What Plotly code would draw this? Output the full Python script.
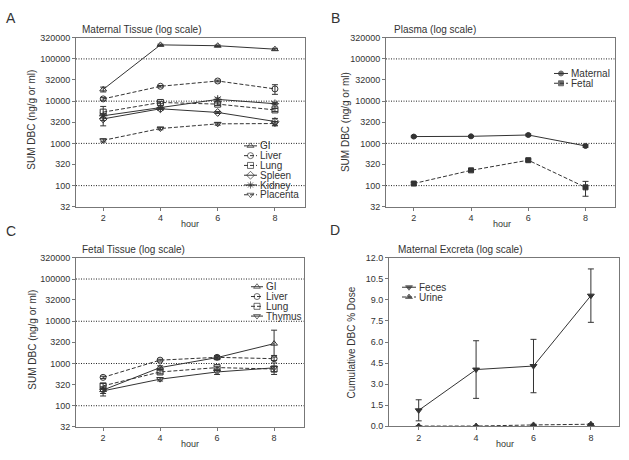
import math
import plotly.graph_objects as go

W, H = 629, 460
FONT = "Liberation Sans, Arial, sans-serif"
LC = "#333333"

hours = [2, 4, 6, 8]

# ---- Panel A: maternal tissue (ng/g or ml) ----
a_gi = [19000, 215000, 205000, 170000]
a_gi_err = [2500, 8000, 8000, 8000]
a_liver = [11300, 22500, 30000, 19500]
a_liver_err = [800, 1000, 1500, 5000]
a_lung = [5500, 9300, 8500, 6200]
a_lung_err = [2000, 600, 600, 500]
a_spleen = [3800, 6600, 5400, 3300]
a_spleen_err = [1200, 300, 300, 600]
a_kidney = [4500, 6900, 11000, 8700]
a_kidney_err = [500, 300, 900, 500]
a_placenta = [1180, 2250, 2900, 2950]
a_placenta_err = [100, 150, 200, 350]

# ---- Panel B: plasma ----
b_maternal = [1450, 1470, 1580, 870]
b_maternal_err = [60, 60, 80, 60]
b_fetal = [112, 230, 400, 91]
b_fetal_err = [8, 15, 25, 35]

# ---- Panel C: fetal tissue ----
c_gi = [235, 800, 1380, 2950]
c_gi_err_plus = [40, 80, 150, 3200]
c_gi_err_minus = [40, 80, 150, 1400]
c_liver = [470, 1200, 1400, 1300]
c_liver_err = [30, 60, 100, 120]
c_lung = [295, 630, 800, 740]
c_lung_err = [40, 60, 60, 100]
c_thymus = [225, 425, 630, 790]
c_thymus_err = [55, 40, 80, 240]

# ---- Panel D: maternal excreta (% dose) ----
d_feces = [1.14, 4.04, 4.29, 9.30]
d_feces_err = [0.75, 2.05, 1.9, 1.9]
d_urine = [0.02, 0.02, 0.10, 0.15]
d_urine_err = [0.03, 0.02, 0.05, 0.05]

log_tickvals = [32, 100, 320, 1000, 3200, 10000, 32000, 100000, 320000]
log_ticktext = ["32", "100", "320", "1000", "3200", "10000", "32000", "100000", "320000"]
grid_vals = [100, 1000, 10000, 100000]
lin_tickvals = [0, 1.5, 3, 4.5, 6, 7.5, 9, 10.5, 12]
lin_ticktext = ["0.0", "1.5", "3.0", "4.5", "6.0", "7.5", "9.0", "10.5", "12.0"]

LOG_LO, LOG_HI = math.log10(32), math.log10(320000)

fig = go.Figure()


def add_series(xa, ya, y, err, symbol, dash, err_minus=None, size=6):
    ey = dict(type="data", array=err, visible=True, color=LC, thickness=1, width=3)
    if err_minus is not None:
        ey["symmetric"] = False
        ey["arrayminus"] = err_minus
    fig.add_trace(go.Scatter(
        x=hours, y=y, xaxis=xa, yaxis=ya, mode="lines+markers",
        line=dict(color=LC, width=1, dash=dash),
        marker=dict(symbol=symbol, size=size, color=LC,
                    line=dict(color=LC, width=1)),
        error_y=ey, showlegend=False, hoverinfo="skip"))


SOLID = "solid"
DASH = "4px,2px"

add_series("x", "y", a_gi, a_gi_err, "triangle-up-open", SOLID)
add_series("x", "y", a_liver, a_liver_err, "circle-open", DASH)
add_series("x", "y", a_lung, a_lung_err, "square-open", DASH)
add_series("x", "y", a_spleen, a_spleen_err, "diamond-open", SOLID)
add_series("x", "y", a_kidney, a_kidney_err, "asterisk-open", SOLID, size=7)
add_series("x", "y", a_placenta, a_placenta_err, "triangle-down-open", DASH)

add_series("x2", "y2", b_maternal, b_maternal_err, "circle", SOLID, size=5)
add_series("x2", "y2", b_fetal, b_fetal_err, "square", DASH, size=5)

add_series("x3", "y3", c_gi, c_gi_err_plus, "triangle-up-open", SOLID, err_minus=c_gi_err_minus)
add_series("x3", "y3", c_liver, c_liver_err, "circle-open", DASH)
add_series("x3", "y3", c_lung, c_lung_err, "square-open", DASH)
add_series("x3", "y3", c_thymus, c_thymus_err, "triangle-down-open", SOLID)

add_series("x4", "y4", d_feces, d_feces_err, "triangle-down", SOLID, size=6)
add_series("x4", "y4", d_urine, d_urine_err, "triangle-up", DASH, size=6)


# ---- legends (pixel overlay axis) ----
def legend_item(x0, yc, w, symbol, dash, label, size=6):
    fig.add_trace(go.Scatter(
        x=[x0, x0 + w / 2, x0 + w], y=[yc, yc, yc], xaxis="x5", yaxis="y5",
        mode="lines+markers", line=dict(color=LC, width=1, dash=dash),
        marker=dict(symbol=symbol, size=[0, size, 0], color=LC, line=dict(color=LC, width=1)),
        showlegend=False, hoverinfo="skip"))
    fig.add_annotation(x=(x0 + w + 1) / W, y=1 - yc / H, xref="paper", yref="paper",
                       text=label, showarrow=False, xanchor="left", yanchor="middle",
                       font=dict(size=10, color=LC, family=FONT))


leg_a = [("triangle-up-open", SOLID, "GI"), ("circle-open", DASH, "Liver"),
         ("square-open", DASH, "Lung"), ("diamond-open", SOLID, "Spleen"),
         ("asterisk-open", SOLID, "Kidney"), ("triangle-down-open", DASH, "Placenta")]
for i, (s, d, t) in enumerate(leg_a):
    legend_item(244, 144 + i * 10, 13, s, d, t)

leg_b = [("circle", SOLID, "Maternal"), ("square", DASH, "Fetal")]
for i, (s, d, t) in enumerate(leg_b):
    legend_item(554, 70 + i * 10, 14, s, d, t, size=5)

leg_c = [("triangle-up-open", SOLID, "GI"), ("circle-open", DASH, "Liver"),
         ("square-open", DASH, "Lung"), ("triangle-down-open", SOLID, "Thymus")]
for i, (s, d, t) in enumerate(leg_c):
    legend_item(251, 288 + i * 10, 12, s, d, t)

leg_d = [("triangle-down", SOLID, "Feces"), ("triangle-up", DASH, "Urine")]
for i, (s, d, t) in enumerate(leg_d):
    legend_item(402, 288.5 + i * 10, 14, s, d, t)


# ---- axes ----
def dom_x(a, b):
    return [a / W, b / W]


def dom_y(top, bottom):
    return [1 - bottom / H, 1 - top / H]


ax_common = dict(showline=True, linecolor="#777777", linewidth=1, mirror=True,
                 ticks="outside", ticklen=3, tickcolor="#777777", showgrid=False,
                 zeroline=False, tickfont=dict(size=9, color=LC, family=FONT),
                 fixedrange=True)

xlog = dict(ax_common, tickvals=hours, ticktext=[str(h) for h in hours], range=[1.05, 9.05])
ylog = dict(ax_common, type="log", tickvals=log_tickvals, ticktext=log_ticktext,
            range=[LOG_LO, LOG_HI])

fig.update_layout(
    width=W, height=H, margin=dict(l=0, r=0, t=0, b=0),
    paper_bgcolor="white", plot_bgcolor="rgba(0,0,0,0)",
    font=dict(family=FONT, color=LC),
    xaxis=dict(xlog, domain=dom_x(76, 305), anchor="y"),
    yaxis=dict(ylog, domain=dom_y(33.3, 206), anchor="x"),
    xaxis2=dict(xlog, domain=dom_x(386, 615), anchor="y2", range=[1.03, 9.03]),
    yaxis2=dict(ylog, domain=dom_y(33.3, 206), anchor="x2"),
    xaxis3=dict(xlog, domain=dom_x(76, 304), anchor="y3"),
    yaxis3=dict(ylog, domain=dom_y(258.3, 431), anchor="x3"),
    xaxis4=dict(ax_common, tickvals=hours, ticktext=[str(h) for h in hours],
                range=[0.965, 8.98], domain=dom_x(389, 619), anchor="y4"),
    yaxis4=dict(ax_common, tickvals=lin_tickvals, ticktext=lin_ticktext,
                range=[0, 12], domain=dom_y(258.3, 430.7), anchor="x4"),
    xaxis5=dict(domain=[0, 1], range=[0, W], visible=False, fixedrange=True, anchor="y5"),
    yaxis5=dict(domain=[0, 1], range=[H, 0], visible=False, fixedrange=True, anchor="x5"),
)

# dotted decade gridlines on log panels
for ya in ["y", "y2", "y3"]:
    xa = "x" if ya == "y" else ("x2" if ya == "y2" else "x3")
    for v in grid_vals:
        f = (math.log10(v) - LOG_LO) / (LOG_HI - LOG_LO)
        fig.add_shape(type="line", xref=f"{xa} domain", yref=f"{ya} domain",
                      x0=0, x1=1, y0=f, y1=f, layer="below",
                      line=dict(color="#222222", width=1, dash="1px,1.5px"))


def text(px, py, s, size=10, xanchor="left", angle=0):
    fig.add_annotation(x=px / W, y=1 - py / H, xref="paper", yref="paper", text=s,
                       showarrow=False, xanchor=xanchor, yanchor="middle", textangle=angle,
                       font=dict(size=size, color=LC, family=FONT))


# panel letters
text(11, 13, "A", 14, "center")
text(335.5, 13, "B", 14, "center")
text(11, 231, "C", 14, "center")
text(335, 230, "D", 14, "center")

# titles
text(80, 25, "Maternal Tissue (log scale)")
text(391.5, 25, "Plasma (log scale)")
text(80, 250, "Fetal Tissue (log scale)")
text(396, 250, "Maternal Excreta (log scale)")

# y titles
text(31.7, 117.5, "SUM DBC (ng/g or ml)", 10, "center", -90)
text(345.7, 120, "SUM DBC (ng/g or ml)", 10, "center", -90)
text(31.7, 342.5, "SUM DBC (ng/g or ml)", 10, "center", -90)
text(351, 345, "Cumulative DBC % Dose", 10, "center", -90)

# x titles
text(190, 224.3, "hour", 9, "center")
text(501.5, 224.3, "hour", 9, "center")
text(190, 449, "hour", 9, "center")
text(505, 449, "hour", 9, "center")

fig.write_html("out.html", config={"displayModeBar": False},
               post_script="document.body.style.margin='0px';document.body.style.overflow='hidden';")
